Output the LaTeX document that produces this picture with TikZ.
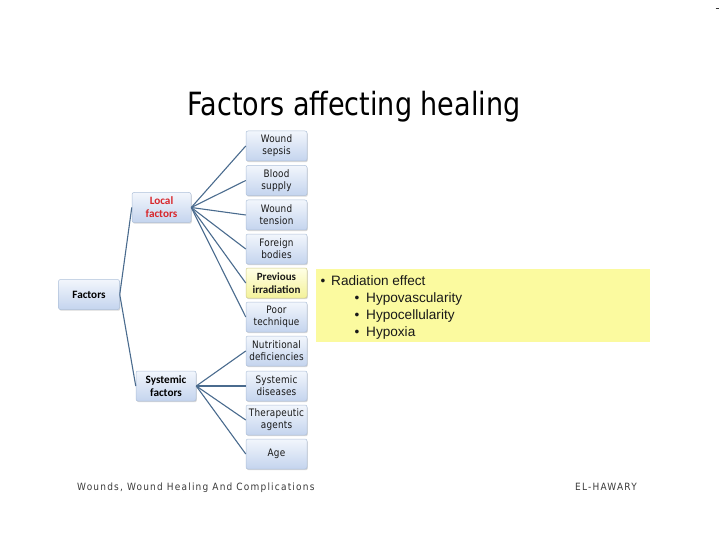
\documentclass[tikz,border=0pt]{standalone}
\usepackage{fontspec}
\usetikzlibrary{shadows}
\setmainfont{Liberation Sans}
\newfontfamily\titlefont[FakeStretch=0.845]{DejaVu Sans}
\newfontfamily\childfam[FakeStretch=0.86,LetterSpace=2]{DejaVu Sans}
\newfontfamily\boldfam{Carlito}
\newfontfamily\footfam[FakeStretch=0.9,LetterSpace=12]{DejaVu Sans}
\definecolor{boxtop}{HTML}{F2F6FC}
\definecolor{boxbot}{HTML}{C4D4EE}
\definecolor{boxborder}{HTML}{AEC0D9}
\definecolor{ytop}{HTML}{FFFFE6}
\definecolor{ybot}{HTML}{F4F29A}
\definecolor{yborder}{HTML}{CFCB8A}
\definecolor{conn}{HTML}{4A6B8E}
\definecolor{callout}{HTML}{FBFA9F}
\definecolor{localred}{HTML}{D8262B}
\definecolor{footgray}{HTML}{3A3A3A}
\tikzset{
  box/.style={draw=boxborder, line width=0.5pt, rounded corners=2pt,
    top color=boxtop, bottom color=boxbot, inner sep=1pt, align=center,
    minimum width=61pt, minimum height=30pt,
    drop shadow={shadow xshift=0.8pt, shadow yshift=-1.2pt, opacity=0.25, fill=black!60}},
  childbox/.style={box, font=\childfam\fontsize{10.3}{12}\selectfont, text=black!90},
  catbox/.style={box, minimum width=60pt, font=\boldfam\bfseries\fontsize{11.2}{13}\selectfont},
  yellowbox/.style={childbox, top color=ytop, bottom color=ybot, draw=yborder,
    font=\boldfam\bfseries\fontsize{11}{13}\selectfont},
  link/.style={draw=conn, line width=1.1pt},
  callitem/.style={anchor=base west, inner sep=0pt, font=\fontsize{13.6}{15}\selectfont, text=black!90}
}
\begin{document}
\begin{tikzpicture}[x=1pt,y=-1pt]
\useasboundingbox (0,0) rectangle (720,540);
% title
\node[anchor=base, inner sep=0pt, text=black, font=\titlefont\fontsize{32}{36}\selectfont] (title) at (354,115.5) {Factors affecting healing};
% tiny mark at top right
\draw[black!80, line width=0.6pt] (715.5,8) -- (719,8);
% category boxes
\node[catbox, minimum width=61pt] (fac) at (89,294.5) {Factors};
\node[catbox, minimum width=59pt, text=localred] (loc) at (161.5,207.5) {Local\\factors};
\node[catbox, minimum width=60pt] (sys) at (166,386) {Systemic\\factors};
% children
\node[childbox] (c1) at (276.5,146) {Wound\\sepsis};
\node[childbox] (c2) at (276.5,180.5) {Blood\\supply};
\node[childbox] (c3) at (276.5,215) {Wound\\tension};
\node[childbox] (c4) at (276.5,249) {Foreign\\bodies};
\node[yellowbox] (c5) at (276.5,283) {Previous\\irradiation};
\node[childbox] (c6) at (276.5,317) {Poor\\technique};
\node[childbox] (c7) at (276.5,351) {Nutritional\\deficiencies};
\node[childbox] (c8) at (276.5,386) {Systemic\\diseases};
\node[childbox] (c9) at (276.5,420) {Therapeutic\\agents};
\node[childbox] (c10) at (276.5,454) {Age};
% connectors
\draw[link] (fac.east) -- (loc.west);
\draw[link] (fac.east) -- (sys.west);
\foreach \c in {c1,c2,c3,c4,c5,c6} \draw[link] (loc.east) -- (\c.west);
\foreach \c in {c7,c8,c9,c10} \draw[link] (sys.east) -- (\c.west);
% callout
\node[fill=callout, inner sep=0pt, minimum width=334pt, minimum height=73pt, anchor=north west] (call) at (316,269) {};
\node[callitem] (b0) at (320.5,285.5) {\textbullet};
\node[callitem] (t0) at (331,285.5) {Radiation effect};
\node[callitem] (b1) at (354.5,302.5) {\textbullet};
\node[callitem] (t1) at (366,302.5) {Hypovascularity};
\node[callitem] (b2) at (354.5,319.5) {\textbullet};
\node[callitem] (t2) at (366,319.5) {Hypocellularity};
\node[callitem] (b3) at (354.5,336) {\textbullet};
\node[callitem] (t3) at (366,336) {Hypoxia};
% footer
\node[anchor=base west, inner sep=0pt, text=footgray, font=\footfam\fontsize{10}{12}\selectfont] (foot) at (77,490) {Wounds, Wound Healing And Complications};
\node[anchor=base east, inner sep=0pt, text=footgray, font=\footfam\fontsize{10}{12}\selectfont] (auth) at (637,490) {EL-HAWARY};
\end{tikzpicture}
\end{document}
